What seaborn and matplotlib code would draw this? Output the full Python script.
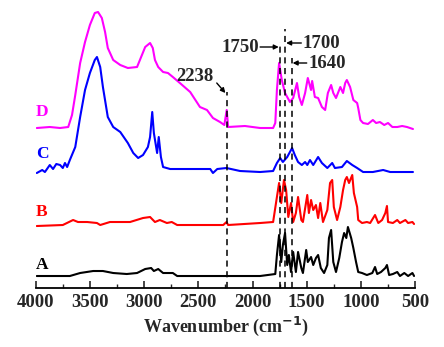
import matplotlib
matplotlib.use("Agg")
import matplotlib.pyplot as plt
import seaborn as sns
import pandas as pd
from matplotlib.ticker import MultipleLocator

# ---------------- data ----------------
# Wavenumbers (cm-1) and relative absorbance (a.u.) for each spectrum
wn_A = [3990, 3685, 3590, 3470, 3380, 3285, 3160, 3065, 2990, 2935, 2910, 2870, 2825, 2735, 2695,
        2270, 1930, 1790, 1775, 1755, 1735, 1720, 1700, 1680, 1665, 1645, 1625, 1600, 1580, 1550,
        1535, 1505, 1490, 1460, 1440, 1415, 1395, 1370, 1340, 1310, 1295, 1275, 1255, 1230, 1200,
        1175, 1155, 1135, 1120, 1090, 1070, 1045, 1025, 990, 945, 895, 870, 850, 815, 775, 760,
        740, 705, 665, 640, 600, 565, 525, 510]
ab_A = [0, 0, 3, 5, 5, 3, 2, 3, 7, 8, 5, 7, 3, 3, 0,
        0, 0, 2, 21, 41, 14, 31, 43, 11, 21, 4, 24, 4, 24, 8,
        3, 26, 14, 19, 11, 18, 21, 8, 3, 11, 38, 46, 14, 4, 18,
        34, 43, 38, 49, 38, 28, 14, 4, 3, 1, 3, 9, 2, 4, 8, 11,
        1, 2, 4, 0, 3, 0, 3, 0]

wn_B = [3990, 3750, 3655, 3610, 3525, 3435, 3405, 3315, 3130, 3010, 2945, 2900, 2855, 2790, 2745,
        2695, 2270, 2240, 2225, 1930, 1810, 1775, 1755, 1735, 1710, 1690, 1670, 1645, 1625, 1600,
        1580, 1550, 1535, 1495, 1480, 1460, 1440, 1415, 1395, 1375, 1350, 1310, 1285, 1265, 1250,
        1220, 1190, 1165, 1145, 1130, 1110, 1080, 1065, 1035, 1025, 990, 945, 915, 870, 840, 805,
        775, 760, 750, 705, 665, 640, 590, 565, 525, 510]
ab_B = [0, 1, 6, 4, 4, 3, 1, 4, 4, 8, 9, 4, 6, 3, 4,
        1, 1, 4, 1, 3, 4, 29, 43, 23, 46, 36, 9, 23, 4, 13,
        29, 6, 4, 31, 13, 26, 16, 21, 8, 23, 4, 16, 43, 46, 19,
        6, 19, 36, 46, 49, 43, 51, 33, 19, 6, 3, 4, 3, 11, 3, 6,
        13, 20, 4, 3, 6, 3, 6, 3, 4, 2]

wn_C = [3990, 3940, 3915, 3870, 3840, 3810, 3775, 3750, 3730, 3710, 3685, 3635, 3590, 3545, 3500,
        3455, 3435, 3405, 3380, 3335, 3285, 3220, 3150, 3100, 3055, 3010, 2965, 2945, 2925, 2910,
        2880, 2865, 2845, 2825, 2760, 2670, 2390, 2365, 2325, 2240, 2115, 1930, 1810, 1775, 1745,
        1720, 1680, 1635, 1610, 1580, 1545, 1515, 1495, 1470, 1440, 1395, 1360, 1310, 1265, 1240,
        1175, 1130, 1080, 1035, 980, 890, 795, 730, 520]
ab_C = [0, 3, 1, 8, 4, 9, 8, 5, 10, 6, 13, 26, 56, 83, 100,
        113, 116, 106, 86, 56, 46, 41, 30, 20, 15, 18, 26, 36, 61, 40,
        20, 36, 16, 6, 4, 4, 4, 0, 4, 5, 2, 1, 2, 10, 15,
        11, 16, 25, 18, 11, 8, 11, 8, 13, 8, 16, 10, 5, 10, 5,
        6, 12, 8, 5, 1, 1, 3, 1, 1]

wn_D = [3990, 3870, 3775, 3700, 3665, 3635, 3590, 3545, 3500, 3455, 3425, 3390, 3360, 3335, 3285,
        3220, 3150, 3065, 3020, 2990, 2945, 2920, 2900, 2870, 2825, 2780, 2735, 2670, 2575, 2485,
        2420, 2365, 2300, 2260, 2238, 2225, 2070, 1930, 1810, 1790, 1775, 1755, 1730, 1700, 1655,
        1625, 1590, 1570, 1545, 1515, 1490, 1460, 1450, 1425, 1395, 1360, 1330, 1305, 1275, 1255,
        1230, 1190, 1165, 1145, 1130, 1100, 1070, 1035, 1025, 1005, 980, 935, 890, 860, 825, 785,
        750, 710, 665, 620, 575, 520]
ab_D = [0, 1, 0, 1, 13, 33, 65, 86, 103, 115, 116, 110, 96, 80, 68,
        63, 60, 61, 73, 81, 85, 80, 68, 61, 56, 55, 51, 45, 36, 21,
        18, 10, 6, 3, 18, 1, 2, 0, 0, 5, 38, 65, 48, 35, 26,
        30, 45, 31, 23, 35, 50, 38, 47, 31, 30, 21, 18, 35, 43, 35,
        30, 41, 35, 45, 48, 41, 28, 25, 20, 8, 5, 4, 8, 5, 6, 3,
        5, 1, 1, 2, 1, -1]

sample_names = ["A", "B", "C", "D"]
marked_peaks = [2238, 1750, 1700, 1640]
x_ticks = [4000, 3500, 3000, 2500, 2000, 1500, 1000, 500]

# ---------------- styling ----------------
sns.set_style("white")
plt.rcParams["font.family"] = ["Liberation Serif", "DejaVu Serif"]
plt.rcParams["font.weight"] = "bold"
plt.rcParams["mathtext.default"] = "bf"

offsets = {"A": 0, "B": 50, "C": 103, "D": 148}
colors = {"A": "#000000", "B": "#FF0000", "C": "#0000FF", "D": "#FF00FF"}
label_y = {"A": 11, "B": 64, "C": 122, "D": 164}

frames = []
for name, wn, ab in [("A", wn_A, ab_A), ("B", wn_B, ab_B), ("C", wn_C, ab_C), ("D", wn_D, ab_D)]:
    frames.append(pd.DataFrame({"Wavenumber": wn,
                                "Absorbance": [v + offsets[name] for v in ab],
                                "Sample": name}))
df = pd.concat(frames, ignore_index=True)

fig = plt.figure(figsize=(4.44, 3.47), dpi=100)
ax = fig.add_axes([0.0804, 0.170, 0.8546, 0.830])

sns.lineplot(data=df, x="Wavenumber", y="Absorbance", hue="Sample",
             palette=colors, linewidth=1.5, legend=False, ax=ax,
             estimator=None, sort=True)

ax.set_xlim(4000, 500)
ax.set_ylim(-12, 276)

# dashed marker lines
tops = {2238: 184, 1750: 234, 1700: 247, 1640: 218}
for p in marked_peaks:
    ax.plot([p, p], [-12, tops[p]], color="black", lw=1.1,
            dashes=(4, 3), zorder=5)

# sample labels
for name in sample_names:
    ax.text(3942, label_y[name], name, color=colors[name], fontsize=12.5,
            fontweight="bold", ha="center", va="center")

# peak annotations
akw = dict(arrowstyle="-|>", color="black", lw=1.0, mutation_scale=7,
           shrinkA=0, shrinkB=0)
ann_fs = 13.5
ax.annotate("", xy=(2250, 183), xytext=(2330, 193), arrowprops=akw)
ax.text(2530, 200, "2238", fontsize=ann_fs, fontweight="bold", ha="center", va="center")

ax.annotate("", xy=(1758, 229), xytext=(1930, 229), arrowprops=akw)
ax.text(2110, 229, "1750", fontsize=ann_fs, fontweight="bold", ha="center", va="center")

ax.annotate("", xy=(1690, 233), xytext=(1550, 233), arrowprops=akw)
ax.text(1365, 233, "1700", fontsize=ann_fs, fontweight="bold", ha="center", va="center")

ax.annotate("", xy=(1630, 213), xytext=(1500, 213), arrowprops=akw)
ax.text(1315, 213, "1640", fontsize=ann_fs, fontweight="bold", ha="center", va="center")

# axes styling
for s in ["left", "right", "top"]:
    ax.spines[s].set_visible(False)
ax.spines["bottom"].set_linewidth(1.3)
ax.spines["bottom"].set_color("black")
ax.set_yticks([])
ax.set_ylabel("")
ax.set_xticks(x_ticks)
ax.xaxis.set_minor_locator(MultipleLocator(250))
ax.tick_params(axis="x", which="major", direction="in", length=5, width=1.2,
               labelsize=13.5, pad=4, bottom=True)
ax.tick_params(axis="x", which="minor", direction="in", length=3, width=1.0, bottom=True)
for lbl in ax.get_xticklabels():
    lbl.set_fontweight("bold")
ax.set_xlabel("Wavenumber (cm$^{\\mathbf{-1}}$)", fontsize=13, fontweight="bold", labelpad=3)

fig.savefig("out.png", dpi=100)
